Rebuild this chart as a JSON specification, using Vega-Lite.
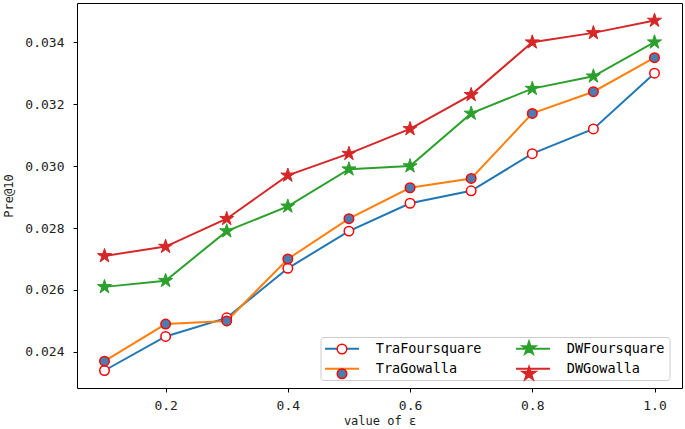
{
  "$schema": "https://vega.github.io/schema/vega-lite/v6.json",
  "autosize": "none",
  "width": 605,
  "height": 385,
  "padding": {"left": 77, "top": 3, "right": 3, "bottom": 41},
  "background": "white",
  "config": {
    "view": {"stroke": "black", "strokeWidth": 1},
    "font": "DejaVu Sans Mono",
    "axis": {
      "grid": false, "domain": false, "ticks": true, "tickColor": "black", "tickSize": 4, "tickWidth": 1,
      "labelFont": "DejaVu Sans Mono", "labelFontSize": 13, "labelColor": "#222222",
      "titleFont": "DejaVu Sans Mono", "titleFontSize": 12, "titleFontWeight": "normal", "titleColor": "#222222"
    }
  },
  "data": {
    "values": [
      {"eps": 0.1, "pre": 0.0234, "s": "TraFoursquare"},
      {"eps": 0.2, "pre": 0.0245, "s": "TraFoursquare"},
      {"eps": 0.3, "pre": 0.0251, "s": "TraFoursquare"},
      {"eps": 0.4, "pre": 0.0267, "s": "TraFoursquare"},
      {"eps": 0.5, "pre": 0.0279, "s": "TraFoursquare"},
      {"eps": 0.6, "pre": 0.0288, "s": "TraFoursquare"},
      {"eps": 0.7, "pre": 0.0292, "s": "TraFoursquare"},
      {"eps": 0.8, "pre": 0.0304, "s": "TraFoursquare"},
      {"eps": 0.9, "pre": 0.0312, "s": "TraFoursquare"},
      {"eps": 1.0, "pre": 0.0330, "s": "TraFoursquare"},
      {"eps": 0.1, "pre": 0.0237, "s": "TraGowalla"},
      {"eps": 0.2, "pre": 0.0249, "s": "TraGowalla"},
      {"eps": 0.3, "pre": 0.0250, "s": "TraGowalla"},
      {"eps": 0.4, "pre": 0.0270, "s": "TraGowalla"},
      {"eps": 0.5, "pre": 0.0283, "s": "TraGowalla"},
      {"eps": 0.6, "pre": 0.0293, "s": "TraGowalla"},
      {"eps": 0.7, "pre": 0.0296, "s": "TraGowalla"},
      {"eps": 0.8, "pre": 0.0317, "s": "TraGowalla"},
      {"eps": 0.9, "pre": 0.0324, "s": "TraGowalla"},
      {"eps": 1.0, "pre": 0.0335, "s": "TraGowalla"},
      {"eps": 0.1, "pre": 0.0261, "s": "DWFoursquare"},
      {"eps": 0.2, "pre": 0.0263, "s": "DWFoursquare"},
      {"eps": 0.3, "pre": 0.0279, "s": "DWFoursquare"},
      {"eps": 0.4, "pre": 0.0287, "s": "DWFoursquare"},
      {"eps": 0.5, "pre": 0.0299, "s": "DWFoursquare"},
      {"eps": 0.6, "pre": 0.0300, "s": "DWFoursquare"},
      {"eps": 0.7, "pre": 0.0317, "s": "DWFoursquare"},
      {"eps": 0.8, "pre": 0.0325, "s": "DWFoursquare"},
      {"eps": 0.9, "pre": 0.0329, "s": "DWFoursquare"},
      {"eps": 1.0, "pre": 0.0340, "s": "DWFoursquare"},
      {"eps": 0.1, "pre": 0.0271, "s": "DWGowalla"},
      {"eps": 0.2, "pre": 0.0274, "s": "DWGowalla"},
      {"eps": 0.3, "pre": 0.0283, "s": "DWGowalla"},
      {"eps": 0.4, "pre": 0.0297, "s": "DWGowalla"},
      {"eps": 0.5, "pre": 0.0304, "s": "DWGowalla"},
      {"eps": 0.6, "pre": 0.0312, "s": "DWGowalla"},
      {"eps": 0.7, "pre": 0.0323, "s": "DWGowalla"},
      {"eps": 0.8, "pre": 0.0340, "s": "DWGowalla"},
      {"eps": 0.9, "pre": 0.0343, "s": "DWGowalla"},
      {"eps": 1.0, "pre": 0.0347, "s": "DWGowalla"}
    ]
  },
  "encoding": {
    "x": {
      "field": "eps", "type": "quantitative",
      "scale": {"domain": [0.055, 1.045], "nice": false, "zero": false},
      "axis": {"values": [0.2, 0.4, 0.6, 0.8, 1.0], "format": ".1f", "labelPadding": 7, "title": "value of ε", "titlePadding": 3}
    },
    "y": {
      "field": "pre", "type": "quantitative",
      "scale": {"domain": [0.022835, 0.035265], "nice": false, "zero": false},
      "axis": {"values": [0.024, 0.026, 0.028, 0.030, 0.032, 0.034], "format": ".3f", "labelPadding": 9, "title": "Pre@10", "titlePadding": 9}
    }
  },
  "layer": [
    {
      "mark": {"type": "line", "strokeWidth": 2},
      "encoding": {
        "color": {
          "field": "s", "type": "nominal",
          "scale": {"domain": ["TraFoursquare", "TraGowalla", "DWFoursquare", "DWGowalla"], "range": ["#1f77b4", "#ff7f0e", "#2ca02c", "#d62728"]},
          "legend": {
            "values": ["TraFoursquare", "TraGowalla", "DWFoursquare", "DWGowalla"],
            "orient": "none", "legendX": 243.5, "legendY": 334, "columns": 2, "zindex": 1,
            "title": null, "symbolType": "M-3.58,0H3.58", "symbolSize": 90, "symbolStrokeWidth": 2, "symbolOffset": 10.25,
            "labelFont": "DejaVu Sans Mono", "labelFontSize": 13.5, "labelColor": "black",
            "labelOffset": 27, "columnPadding": 30, "rowPadding": 5.5,
            "fillColor": "white", "strokeColor": "#cccccc", "cornerRadius": 3, "padding": 4.5
          }
        }
      }
    },
    {
      "transform": [{"filter": "indexof(datum.s, 'Tra') == 0"}],
      "mark": {"type": "point", "filled": true, "strokeWidth": 1.5, "opacity": 1, "size": 90},
      "encoding": {
        "shape": {
          "field": "s", "type": "nominal",
          "scale": {"domain": ["TraFoursquare", "DWFoursquare", "TraGowalla", "DWGowalla"], "range": ["circle", "M0,-1.56L0.3502,-0.482L1.4837,-0.482L0.5668,0.1841L0.917,1.262L0,0.5959L-0.917,1.262L-0.5668,0.1841L-1.4837,-0.482L-0.3502,-0.482Z", "circle", "M0,-1.56L0.3502,-0.482L1.4837,-0.482L0.5668,0.1841L0.917,1.262L0,0.5959L-0.917,1.262L-0.5668,0.1841L-1.4837,-0.482L-0.3502,-0.482Z"]},
          "legend": {
            "values": ["TraFoursquare", "TraGowalla", "DWFoursquare", "DWGowalla"],
            "orient": "none", "legendX": 243.5, "legendY": 334, "columns": 2, "zindex": 3,
            "title": null, "symbolSize": 90, "symbolStrokeWidth": 1.5, "symbolOffset": 10.25, "symbolOpacity": 1,
            "labelFont": "DejaVu Sans Mono", "labelFontSize": 13.5, "labelOpacity": 0,
            "labelOffset": 27, "columnPadding": 30, "rowPadding": 5.5, "padding": 4.5
          }
        },
        "fill": {
          "field": "s", "type": "nominal",
          "scale": {"domain": ["TraFoursquare", "DWFoursquare", "TraGowalla", "DWGowalla"], "range": ["white", "#2ca02c", "#4a7eb0", "#d62728"]}
        },
        "stroke": {
          "field": "s", "type": "nominal",
          "scale": {"domain": ["TraFoursquare", "DWFoursquare", "TraGowalla", "DWGowalla"], "range": ["#ff0000", "#2ca02c", "#ff0000", "#d62728"]}
        }
      }
    },
    {
      "transform": [{"filter": "indexof(datum.s, 'DW') == 0"}],
      "mark": {"type": "point", "filled": true, "strokeWidth": 1, "opacity": 1, "size": 90},
      "encoding": {
        "shape": {"field": "s", "type": "nominal"},
        "fill": {"field": "s", "type": "nominal"},
        "stroke": {"field": "s", "type": "nominal"}
      }
    }
  ]
}
